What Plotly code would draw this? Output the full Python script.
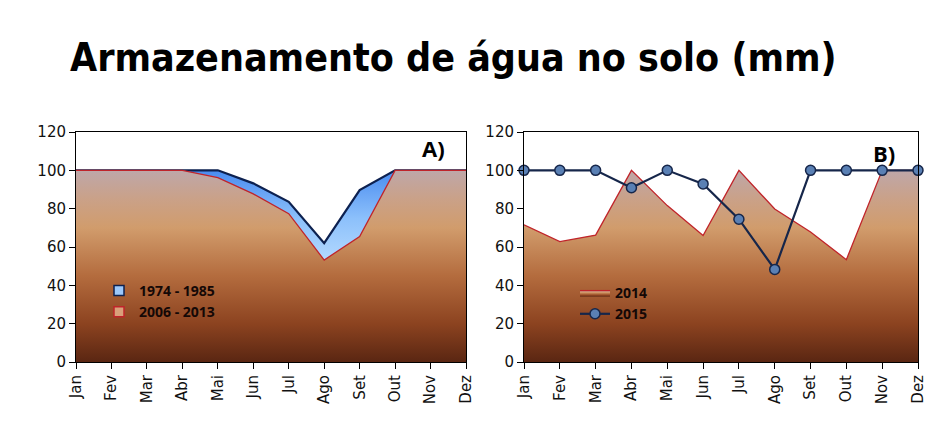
import plotly.graph_objects as go

months = ["Jan", "Fev", "Mar", "Abr", "Mai", "Jun", "Jul", "Ago", "Set", "Out", "Nov", "Dez"]
a_1974_1985 = [100, 100, 100, 100, 100, 93.2, 83.6, 62.0, 89.7, 100, 100, 100]
a_2006_2013 = [100, 100, 100, 100, 96.2, 87.7, 77.4, 53.2, 65.5, 100, 100, 100]
b_2014 = [71.6, 62.8, 66.2, 100, 81.6, 66.0, 100, 79.8, 67.8, 53.4, 100, 100]
b_2015 = [100, 100, 100, 90.9, 100, 92.9, 74.5, 48.3, 100, 100, 100, 100]
yticks = [0, 20, 40, 60, 80, 100, 120]

x = list(range(len(months)))

W, H, OFF = 944, 435, 8


def px(p):
    return (p - OFF) / W


def py(p):
    return 1 - (p - OFF) / H


brown_scale = [[0.0, "#5a2612"], [0.2, "#8c4320"], [0.45, "#b46c3e"],
               [0.7, "#d19c6c"], [0.85, "#caa188"], [1.0, "#bea7a9"]]
blue_scale = [[0.0, "#b8dcff"], [0.5, "#8cc0fb"], [1.0, "#4a8cf0"]]

fig = go.Figure()

fig.add_trace(go.Scatter(
    x=x, y=a_1974_1985, name="1974 - 1985", mode="lines",
    line=dict(color="#0d2150", width=2.2), fill="tozeroy",
    fillgradient=dict(type="vertical", colorscale=blue_scale, start=50, stop=100),
    xaxis="x", yaxis="y", showlegend=False))
fig.add_trace(go.Scatter(
    x=x, y=a_2006_2013, name="2006 - 2013", mode="lines",
    line=dict(color="#c0242a", width=1.3), fill="tozeroy",
    fillgradient=dict(type="vertical", colorscale=brown_scale, start=0, stop=100),
    xaxis="x", yaxis="y", showlegend=False))
# legend keys for panel A (square swatches)
fig.add_trace(go.Scatter(
    x=[None], y=[None], name="1974 - 1985", mode="markers",
    marker=dict(symbol="square", size=10, color="#9cc8fb", line=dict(color="#0d2150", width=1.5)),
    xaxis="x", yaxis="y", legend="legend"))
fig.add_trace(go.Scatter(
    x=[None], y=[None], name="2006 - 2013", mode="markers",
    marker=dict(symbol="square", size=10, color="#d9a07a", line=dict(color="#c0242a", width=1.5)),
    xaxis="x", yaxis="y", legend="legend"))

fig.add_trace(go.Scatter(
    x=x, y=b_2014, name="2014", mode="lines",
    line=dict(color="#c0242a", width=1.3), fill="tozeroy",
    fillgradient=dict(type="vertical", colorscale=brown_scale, start=0, stop=100),
    xaxis="x2", yaxis="y2", legend="legend2"))
fig.add_trace(go.Scatter(
    x=x, y=b_2015, name="2015", mode="lines+markers",
    line=dict(color="#16264a", width=2.2),
    marker=dict(symbol="circle", size=10, color="#5a80b4", line=dict(color="#16264a", width=1.5)),
    cliponaxis=False,
    xaxis="x2", yaxis="y2", legend="legend2"))

ydom = [py(362), py(132)]
tickfont = dict(family="DejaVu Sans", size=15, color="#111111")
xcommon = dict(range=[0, 11], tickvals=x, ticktext=months, tickangle=-90,
               showline=True, linecolor="#000000", linewidth=1, mirror=True,
               ticks="outside", ticklen=6, tickcolor="#000000", automargin=False,
               showgrid=False, zeroline=False, tickfont=tickfont)
ycommon = dict(range=[0, 120], tickvals=yticks, showline=True, linecolor="#000000",
               linewidth=1, mirror=True, ticks="outside", ticklen=6, tickcolor="#000000",
               automargin=False, showgrid=False, zeroline=False, tickfont=tickfont)

legfont = dict(family="Open Sans", size=14, color="#140806", weight="bold")

fig.update_layout(
    width=W, height=H,
    margin=dict(l=0, r=0, t=0, b=0, autoexpand=False),
    paper_bgcolor="white", plot_bgcolor="white",
    xaxis=dict(domain=[px(76), px(466)], anchor="y", **xcommon),
    yaxis=dict(domain=ydom, anchor="x", **ycommon),
    xaxis2=dict(domain=[px(524), px(918)], anchor="y2", **xcommon),
    yaxis2=dict(domain=ydom, anchor="x2", **ycommon),
    legend=dict(x=px(99), y=py(275), xanchor="left", yanchor="top",
                bgcolor="rgba(0,0,0,0)", font=legfont, tracegroupgap=0,
                itemwidth=30, traceorder="normal"),
    legend2=dict(x=px(575), y=py(277), xanchor="left", yanchor="top",
                 bgcolor="rgba(0,0,0,0)", font=legfont, tracegroupgap=0,
                 itemwidth=30, traceorder="normal"),
    showlegend=True,
    annotations=[
        dict(text="Armazenamento de água no solo (mm)", x=px(453), y=py(57),
             xref="paper", yref="paper", showarrow=False, xanchor="center", yanchor="middle",
             font=dict(family="DejaVu Sans Condensed, Open Sans, sans-serif", size=39,
                       color="#000000", weight="bold")),
        dict(text="A)", x=px(433), y=py(148), xref="paper", yref="paper",
             showarrow=False, xanchor="center", yanchor="middle",
             font=dict(family="Open Sans", size=22, color="#000000", weight="bold")),
        dict(text="B)", x=px(884), y=py(153), xref="paper", yref="paper",
             showarrow=False, xanchor="center", yanchor="middle",
             font=dict(family="Open Sans", size=22, color="#000000", weight="bold")),
    ],
)

fig.write_html("out.html")
